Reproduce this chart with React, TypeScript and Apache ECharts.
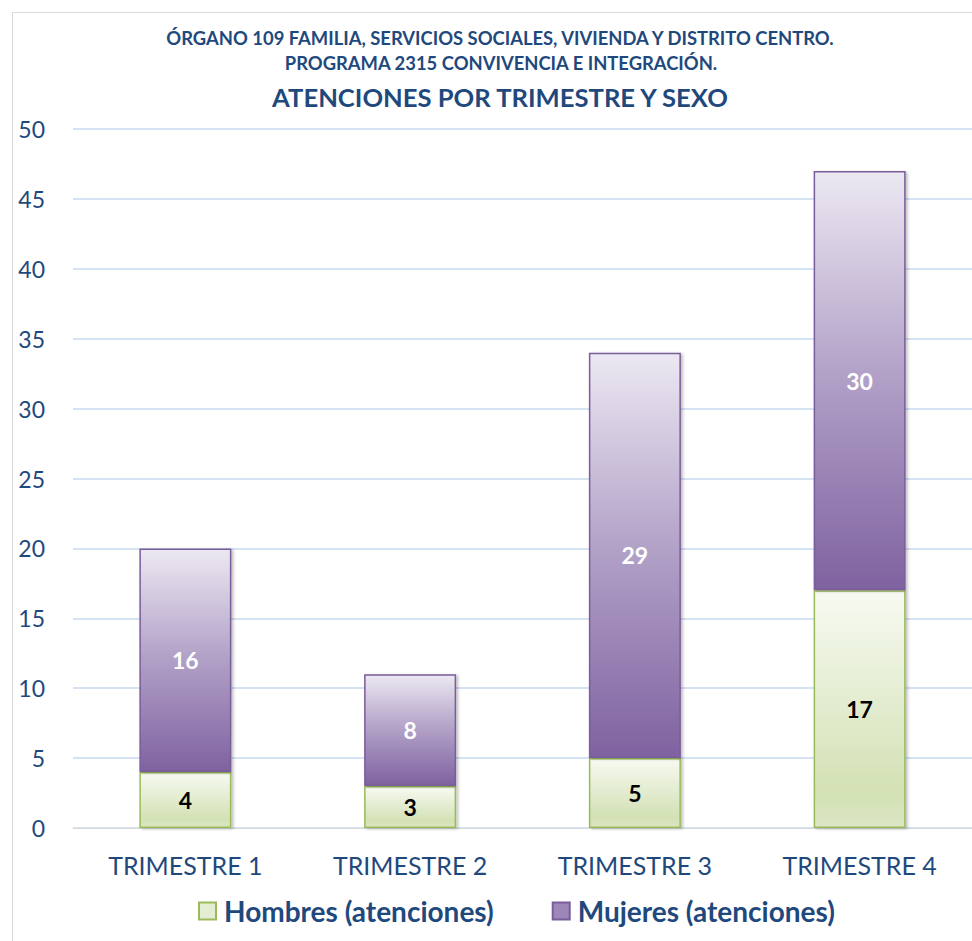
import React, { useEffect, useRef } from "react";
import * as echarts from "echarts";

const categories = ["TRIMESTRE 1", "TRIMESTRE 2", "TRIMESTRE 3", "TRIMESTRE 4"];
const hombres = [4, 3, 5, 17];
const mujeres = [16, 8, 29, 30];
const titleLines = [
  "ÓRGANO 109 FAMILIA, SERVICIOS SOCIALES, VIVIENDA Y DISTRITO CENTRO.",
  "PROGRAMA 2315 CONVIVENCIA E INTEGRACIÓN.",
];
const mainTitle = "ATENCIONES POR TRIMESTRE Y SEXO";
const seriesNames = ["Hombres (atenciones)", "Mujeres (atenciones)"];

const FONT = "Lato, 'Open Sans', sans-serif";
const BLUE = "#1F497D";

export default function App() {
  const ref = useRef<HTMLDivElement>(null);
  useEffect(() => {
    if (!ref.current) return;
    const chart = echarts.init(ref.current, null, { renderer: "svg" });
    const green = new echarts.graphic.LinearGradient(0, 0, 0, 1, [
      { offset: 0, color: "#f7faf2" },
      { offset: 0.85, color: "#d3e1b4" },
      { offset: 1, color: "#dbe6c5" },
    ]);
    const purple = new echarts.graphic.LinearGradient(0, 0, 0, 1, [
      { offset: 0, color: "#ece8f2" },
      { offset: 0.5, color: "#b09fc6" },
      { offset: 1, color: "#7f62a0" },
    ]);
    chart.setOption({
      animation: false,
      backgroundColor: "#ffffff",
      textStyle: { fontFamily: FONT },
      graphic: [
        {
          type: "rect",
          shape: { x: 12.5, y: 12.5, width: 975, height: 945 },
          style: { fill: "none", stroke: "#d9d9d9", lineWidth: 1 },
          silent: true,
        },
        {
          type: "text",
          x: 500,
          y: 38,
          style: {
            text: titleLines[0],
            font: `bold 18.4px ${FONT}`,
            fill: BLUE,
            textAlign: "center",
            textVerticalAlign: "middle",
          },
        },
        {
          type: "text",
          x: 501,
          y: 63,
          style: {
            text: titleLines[1],
            font: `bold 18.4px ${FONT}`,
            fill: BLUE,
            textAlign: "center",
            textVerticalAlign: "middle",
          },
        },
        {
          type: "text",
          x: 500,
          y: 97,
          style: {
            text: mainTitle,
            font: `bold 25.6px ${FONT}`,
            fill: BLUE,
            textAlign: "center",
            textVerticalAlign: "middle",
          },
        },
      ],
      legend: {
        bottom: 11,
        left: 193,
        itemWidth: 17,
        itemHeight: 17,
        itemGap: 58,
        icon: "rect",
        textStyle: { fontFamily: FONT, fontSize: 28, fontWeight: "bold", color: BLUE, padding: [0, 0, 0, 3] },
        data: [
          { name: seriesNames[0], itemStyle: { color: "#e4edd4", borderColor: "#9bbb59", borderWidth: 2 } },
          { name: seriesNames[1], itemStyle: { color: "#9d87b8", borderColor: "#7a5d9b", borderWidth: 2 } },
        ],
      },
      grid: { left: 73, top: 129, width: 901, height: 699, containLabel: false },
      xAxis: {
        type: "category",
        data: categories,
        axisLine: { lineStyle: { color: "#d9d9d9", width: 1 } },
        axisTick: { show: false },
        axisLabel: { fontFamily: FONT, fontSize: 25, color: BLUE, margin: 24 },
      },
      yAxis: {
        type: "value",
        min: 0,
        max: 50,
        interval: 5,
        axisLine: { show: false },
        axisTick: { show: false },
        splitLine: { lineStyle: { color: "#c6d9f1", width: 1.5 } },
        axisLabel: { fontFamily: FONT, fontSize: 23, color: BLUE, margin: 28 },
      },
      series: [
        {
          name: seriesNames[0],
          type: "bar",
          stack: "total",
          barWidth: 92,
          data: hombres,
          itemStyle: {
            color: green,
            borderColor: "#9bbb59",
            borderWidth: 1.5,
            shadowColor: "rgba(0,0,0,0.25)",
            shadowBlur: 3,
            shadowOffsetX: 2,
            shadowOffsetY: 1,
          },
          label: {
            show: true,
            position: "inside",
            fontFamily: FONT,
            fontSize: 23,
            fontWeight: "bold",
            color: "#000000",
          },
        },
        {
          name: seriesNames[1],
          type: "bar",
          stack: "total",
          barWidth: 92,
          data: mujeres,
          itemStyle: {
            color: purple,
            borderColor: "#7a5d9b",
            borderWidth: 1.5,
            shadowColor: "rgba(0,0,0,0.25)",
            shadowBlur: 3,
            shadowOffsetX: 2,
            shadowOffsetY: 1,
          },
          label: {
            show: true,
            position: "inside",
            fontFamily: FONT,
            fontSize: 23,
            fontWeight: "bold",
            color: "#ffffff",
          },
        },
      ],
    });
    return () => chart.dispose();
  }, []);
  return (
    <div
      ref={ref}
      style={{ position: "absolute", left: 0, top: 0, width: 972, height: 941 }}
    />
  );
}
